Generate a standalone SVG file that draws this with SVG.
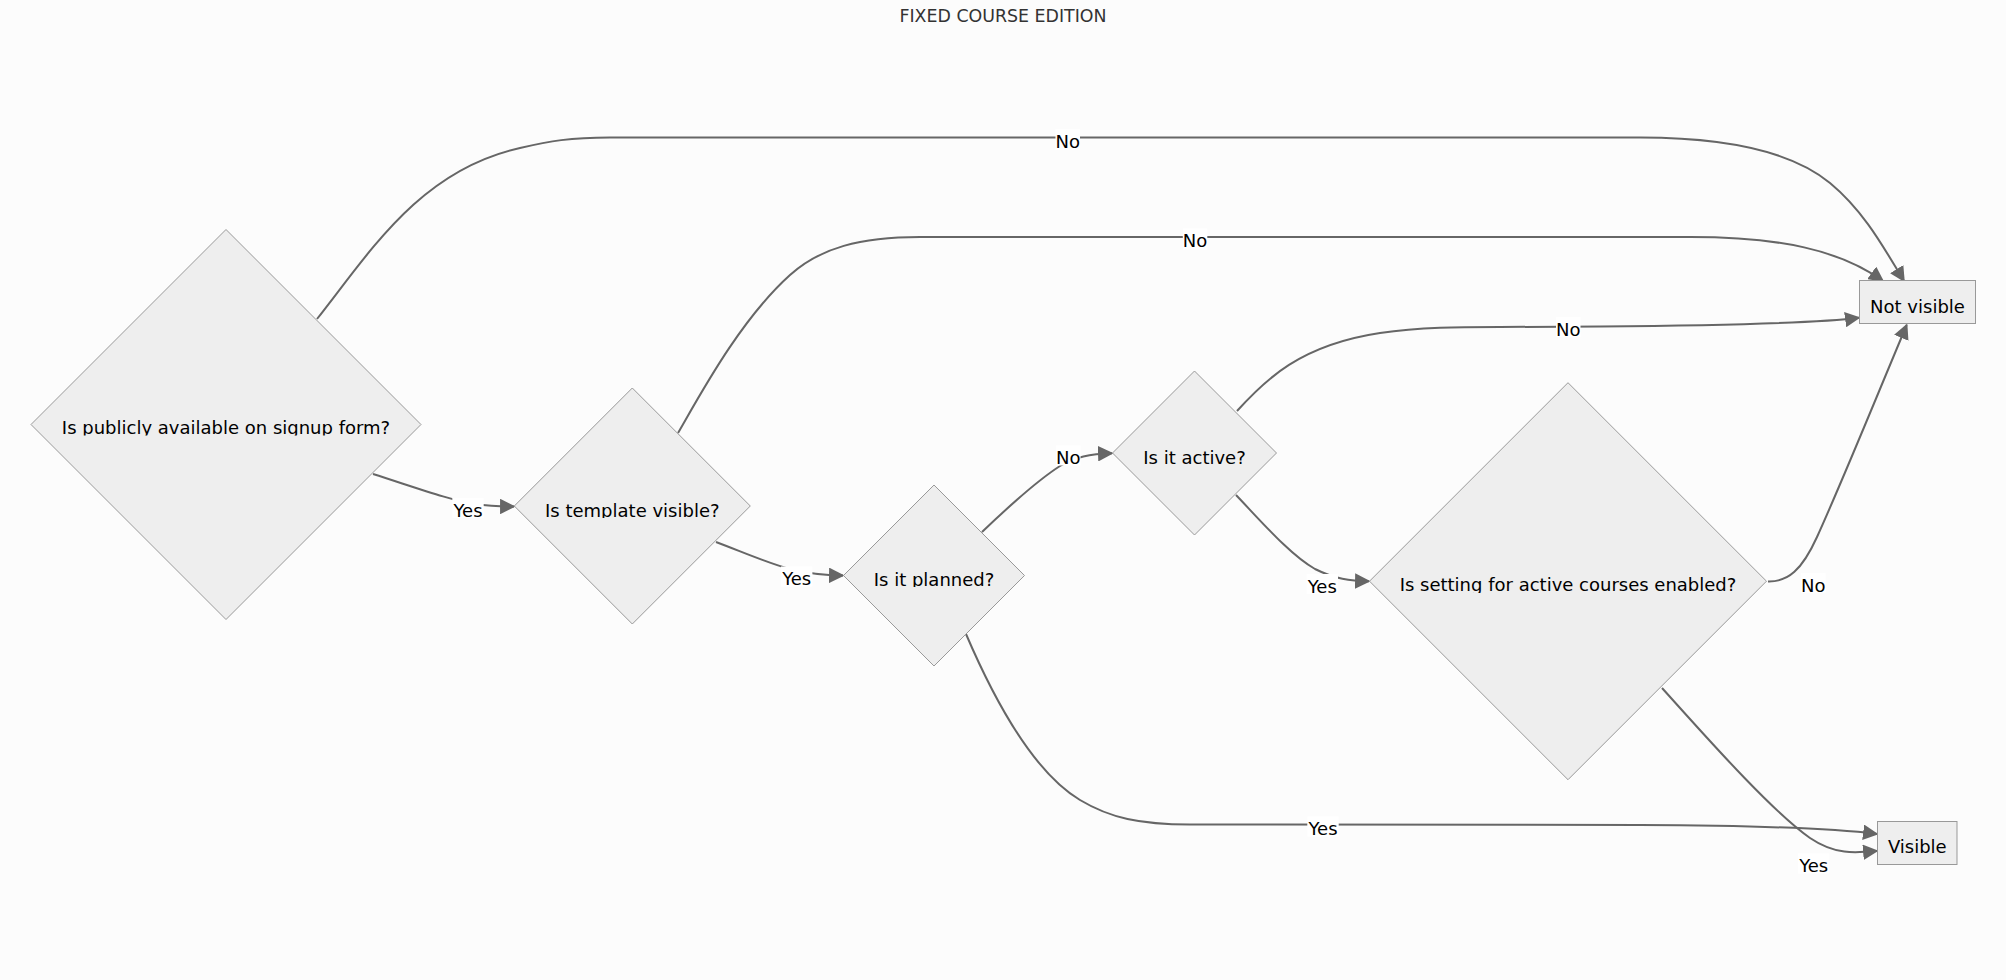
<svg xmlns="http://www.w3.org/2000/svg" width="2006" height="980" viewBox="0 0 2006 980">
<style>
.node polygon, .node rect { fill: #eeeeee; stroke: #999999; stroke-width: 1; }
.node text { font-family: "DejaVu Sans", Verdana, sans-serif; font-size: 18px; fill: #000000; text-anchor: middle; }
.edge { fill: none; stroke: #666666; stroke-width: 2; marker-end: url(#arrow); }
.elabel rect { fill: #ffffff; }
.elabel text { font-family: "DejaVu Sans", Verdana, sans-serif; font-size: 18px; fill: #000000; text-anchor: middle; }
.title { font-family: "DejaVu Sans", Verdana, sans-serif; font-size: 17.4px; fill: #333333; text-anchor: middle; }
</style>
<defs>
<marker id="arrow" viewBox="0 0 10 10" refX="9" refY="5" markerUnits="userSpaceOnUse" markerWidth="15.5" markerHeight="15.5" orient="auto">
<path d="M0,0 L10,5 L0,10 z" fill="#666666"/>
</marker>
<clipPath id="c1"><rect x="40" y="405" width="372" height="30.5"/></clipPath>
<clipPath id="c2"><rect x="530" y="488" width="205" height="30"/></clipPath>
<clipPath id="c3"><rect x="860" y="557" width="150" height="30"/></clipPath>
<clipPath id="c5"><rect x="1390" y="563" width="360" height="30"/></clipPath>
</defs>
<rect x="0" y="0" width="2006" height="980" fill="#fcfcfc"/>
<text class="title" x="1003" y="21.5">FIXED COURSE EDITION</text>

<g id="connectors">
<path class="edge" d="M317,319 C370,252 420,170 520,148 C550,141 570,137.5 610,137.5 L1640,137.5 C1720,137.5 1790,150 1830,183 C1865,212 1885,250 1904,281"/>
<path class="edge" d="M678,433 C700,395 740,320 790,275 C820,248 860,237 920,237 L1690,237 C1780,237 1840,250 1883,281"/>
<path class="edge" d="M373,474 C420,489 450,500 475,504 C492,506.5 502,506.5 514,506.5"/>
<path class="edge" d="M716,542 C745,553 770,564 790,569 C810,574 825,575.3 843,575.5"/>
<path class="edge" d="M982,532 C1005,510 1035,482 1060,466 C1075,457 1090,454 1112,453.3"/>
<path class="edge" d="M1236,495 C1260,520 1290,555 1315,569 C1335,579 1350,581 1369,581.3"/>
<path class="edge" d="M1237,411 C1265,380 1300,345 1380,333 C1420,327 1460,327 1500,327 L1600,326.5 C1700,325.5 1820,323 1859,317.7"/>
<path class="edge" d="M1768,581.5 C1788,582 1802,570 1817,537 C1842,482 1876,398 1906.7,325"/>
<path class="edge" d="M1662,688 C1700,730 1770,810 1810,838 C1835,855 1855,853 1877,851"/>
<path class="edge" d="M966,634 C990,690 1030,770 1080,800 C1110,818 1140,824.5 1190,824.5 L1640,825 C1760,825.5 1830,828 1877,834"/>

<g class="elabel"><rect x="1055.5" y="129" width="24.5" height="21"/><text x="1067.7" y="147.5">No</text></g>
<g class="elabel"><rect x="1182.8" y="228.5" width="24.5" height="21"/><text x="1195" y="247">No</text></g>
<g class="elabel"><rect x="452.3" y="498" width="31.4" height="20"/><text x="468" y="516.7">Yes</text></g>
<g class="elabel"><rect x="781" y="566.5" width="31.4" height="20"/><text x="796.7" y="585">Yes</text></g>
<g class="elabel"><rect x="1056" y="445.5" width="24.5" height="20"/><text x="1068.3" y="464">No</text></g>
<g class="elabel"><rect x="1306.6" y="574" width="31.4" height="20"/><text x="1322.3" y="592.7">Yes</text></g>
<g class="elabel"><rect x="1556" y="317" width="24.5" height="20"/><text x="1568.3" y="336">No</text></g>
<g class="elabel"><rect x="1801" y="573" width="24.5" height="20"/><text x="1813.3" y="591.5">No</text></g>
<g class="elabel"><rect x="1798" y="853.5" width="31.4" height="20"/><text x="1813.7" y="872">Yes</text></g>
<g class="elabel"><rect x="1307.3" y="816.5" width="31.4" height="20"/><text x="1323" y="835">Yes</text></g>
</g>

<g id="n1" class="node"><polygon points="226,229.5 421,424.5 226,619.5 31,424.5"/><text x="226" y="434" clip-path="url(#c1)">Is publicly available on signup form?</text></g>
<g id="n2" class="node"><polygon points="632.3,388 750.3,506 632.3,624 514.3,506"/><text x="632.3" y="516.5" clip-path="url(#c2)">Is template visible?</text></g>
<g id="n3" class="node"><polygon points="934,485 1024.5,575.5 934,666 843.5,575.5"/><text x="934" y="585.5" clip-path="url(#c3)">Is it planned?</text></g>
<g id="n4" class="node"><polygon points="1194.5,371 1276.5,453 1194.5,535 1112.5,453"/><text x="1194.5" y="463.5">Is it active?</text></g>
<g id="n5" class="node"><polygon points="1568,382.7 1766.5,581.2 1568,779.7 1369.5,581.2"/><text x="1568" y="591" clip-path="url(#c5)">Is setting for active courses enabled?</text></g>
<g id="n6" class="node"><rect x="1859.5" y="280.5" width="116" height="43"/><text x="1917.5" y="312.5">Not visible</text></g>
<g id="n7" class="node"><rect x="1877.5" y="821.5" width="79.5" height="43"/><text x="1917.3" y="853.3">Visible</text></g>
</svg>
